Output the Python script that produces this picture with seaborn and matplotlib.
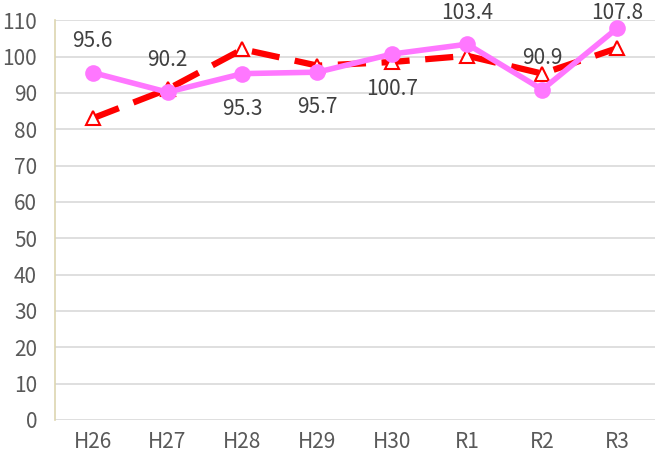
import pandas as pd
import seaborn as sns
import matplotlib
matplotlib.use('Agg')
import matplotlib.pyplot as plt

years = ['H26', 'H27', 'H28', 'H29', 'H30', 'R1', 'R2', 'R3']
index_values = [95.6, 90.2, 95.3, 95.7, 100.7, 103.4, 90.9, 107.8]
compare_values = [83.0, 91.0, 102.0, 97.5, 98.5, 100.2, 95.3, 102.3]
label_above = [True, True, False, False, False, True, True, True]

sns.set_theme(style='white')
plt.rcParams['font.family'] = ['Noto Sans CJK JP', 'DejaVu Sans']

df = pd.DataFrame({'year': years, 'index': index_values, 'compare': compare_values})

fig = plt.figure(figsize=(6.64, 4.59), dpi=100)
ax = fig.add_axes([0.083, 0.085, 0.903, 0.871])

# red dashed series with open triangles
sns.lineplot(data=df, x='year', y='compare', ax=ax, color='#ff0000', linewidth=4.5,
             marker='^', markersize=10, markerfacecolor='white', markeredgecolor='#ff0000',
             markeredgewidth=1.5, sort=False)
ax.lines[-1].set_dashes([4.5, 2.5])

# pink solid series
sns.lineplot(data=df, x='year', y='index', ax=ax, color='#ff77ff', linewidth=4,
             marker='o', markersize=12, markeredgewidth=0, sort=False)

# labels: ~32px above / ~35px below the point, kept inside the top of the chart
for i, (v, up) in enumerate(zip(index_values, label_above)):
    y = min(v + 8.8, 112) if up else v - 9.6
    ax.text(i, y, f'{v:.1f}', ha='center', va='center', fontsize=15,
            color='#404040', clip_on=False)

ax.set_ylim(0, 110)
ax.set_yticks(range(0, 111, 10))
ax.set_xlim(-0.5, len(years) - 0.5)
ax.set_xlabel('')
ax.set_ylabel('')
ax.yaxis.grid(True, color='#d9d9d9', linewidth=1.2)
ax.set_axisbelow(True)
for s in ['top', 'right', 'bottom']:
    ax.spines[s].set_visible(False)
ax.spines['left'].set_color('#ddd6b0')
ax.spines['left'].set_linewidth(1.2)
ax.tick_params(axis='y', length=0, labelsize=15, labelcolor='#595959', pad=13)
ax.tick_params(axis='x', length=0, labelsize=15, labelcolor='#595959', pad=8)

fig.savefig('out.png', dpi=100)
